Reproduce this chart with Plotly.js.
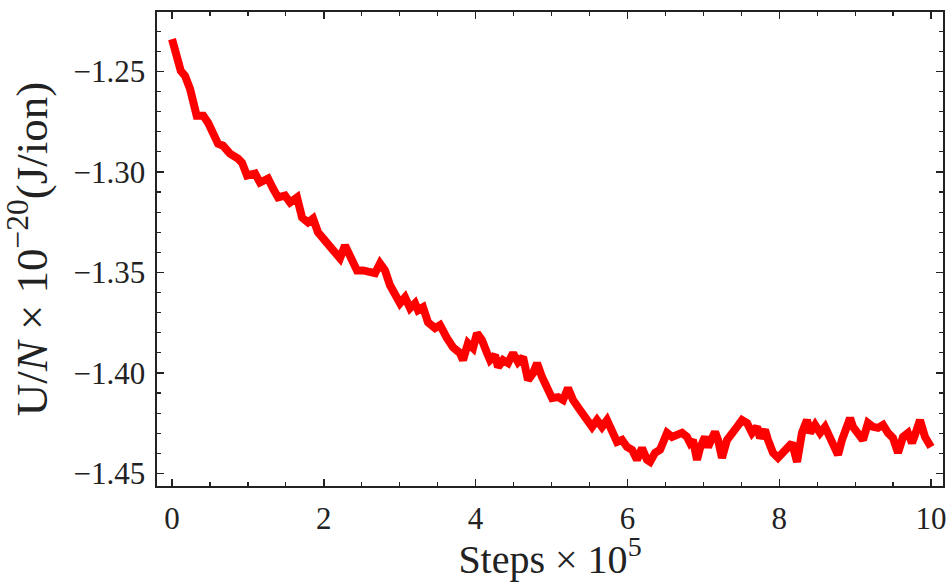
<!DOCTYPE html>
<html>
<head>
<meta charset="utf-8">
<script src="https://cdn.plot.ly/plotly-3.0.1.min.js"></script>
<style>body{margin:0;background:#fff}#chart{width:948px;height:582px}</style>
</head>
<body>
<div id="chart"></div>
<script>
// Steps (x 10^5)
const steps = [
 0.00,0.062,0.115,0.171,0.237,0.325,0.412,0.474,0.540,0.606,0.672,0.764,0.870,0.922,0.988,
 1.094,1.159,1.265,1.331,1.397,1.489,1.555,1.647,1.713,1.792,1.858,1.924,
 2.042,2.121,2.213,2.279,2.345,2.437,2.516,2.609,2.675,2.740,2.806,2.872,2.938,
 3.004,3.070,3.136,3.202,3.241,3.307,3.373,3.465,3.531,3.623,3.702,3.794,3.834,3.900,3.966,
 4.018,4.084,4.150,4.190,4.256,4.295,4.361,4.427,4.493,4.559,4.625,4.690,4.756,4.809,4.875,4.941,
 5.007,5.086,5.152,5.217,5.283,5.375,5.468,5.534,5.599,5.665,5.731,5.797,5.863,5.929,5.995,
 6.061,6.126,6.192,6.258,6.298,6.364,6.430,6.522,6.588,6.653,6.719,6.785,6.825,6.864,6.917,6.957,
 7.022,7.062,7.115,7.154,7.194,7.246,7.312,7.378,7.444,7.510,7.576,7.642,7.708,7.747,7.813,7.852,7.918,7.984,
 8.050,8.116,8.169,8.235,8.274,8.300,8.366,8.406,8.472,8.538,8.603,8.669,8.735,8.775,8.827,8.893,8.933,8.972,
 9.038,9.104,9.170,9.236,9.302,9.368,9.433,9.499,9.565,9.631,9.697,9.750,9.789,9.855,9.921,10.00
];
// U/N x 10^-20 (J/ion)
const energy = [
 -1.2340,-1.2423,-1.2498,-1.2522,-1.2587,-1.2721,-1.2721,-1.2755,-1.2820,-1.2860,-1.2870,-1.2909,-1.2934,-1.2954,-1.3018,
 -1.3008,-1.3053,-1.3033,-1.3083,-1.3127,-1.3118,-1.3152,-1.3127,-1.3227,-1.3251,-1.3232,-1.3301,
 -1.3351,-1.3390,-1.3430,-1.3366,-1.3425,-1.3490,-1.3490,-1.3500,-1.3504,-1.3455,-1.3490,-1.3564,-1.3604,
 -1.3653,-1.3624,-1.3678,-1.3653,-1.3688,-1.3673,-1.3748,-1.3777,-1.3762,-1.3827,-1.3872,-1.3901,-1.3936,-1.3852,-1.3876,
 -1.3802,-1.3837,-1.3901,-1.3936,-1.3911,-1.3971,-1.3936,-1.3951,-1.3901,-1.3946,-1.3921,-1.4035,-1.4001,-1.3951,-1.4020,-1.4085,
 -1.4125,-1.4120,-1.4134,-1.4075,-1.4134,-1.4184,-1.4244,-1.4268,-1.4234,-1.4268,-1.4234,-1.4283,-1.4343,-1.4333,-1.4368,
 -1.4382,-1.4432,-1.4373,-1.4432,-1.4442,-1.4397,-1.4382,-1.4298,-1.4318,-1.4308,-1.4298,-1.4318,-1.4348,-1.4333,-1.4432,-1.4373,
 -1.4318,-1.4368,-1.4323,-1.4293,-1.4333,-1.4422,-1.4333,-1.4293,-1.4268,-1.4234,-1.4249,-1.4298,-1.4268,-1.4323,-1.4283,-1.4333,-1.4397,-1.4422,
 -1.4397,-1.4382,-1.4348,-1.4442,-1.4333,-1.4298,-1.4234,-1.4298,-1.4258,-1.4298,-1.4268,-1.4318,-1.4382,-1.4407,-1.4333,-1.4268,-1.4224,-1.4268,
 -1.4298,-1.4333,-1.4249,-1.4268,-1.4273,-1.4258,-1.4298,-1.4323,-1.4397,-1.4318,-1.4298,-1.4348,-1.4308,-1.4234,-1.4318,-1.4368
];
const xTicks = [0, 2, 4, 6, 8, 10];
const yTicks = [-1.45, -1.40, -1.35, -1.30, -1.25];

const FONT = '"Liberation Serif", "Times New Roman", serif';
const axisCommon = {
  showline: true, linecolor: '#222', linewidth: 1.6, mirror: 'ticks',
  ticks: 'inside', ticklen: 7, tickwidth: 1.4, tickcolor: '#222',
  showgrid: false, zeroline: false,
  tickfont: {family: FONT, size: 31, color: '#222'}
};

Plotly.newPlot('chart', [{
  x: steps, y: energy, type: 'scatter', mode: 'lines',
  line: {color: '#ff0000', width: 8, shape: 'linear'},
  hoverinfo: 'skip'
}], {
  width: 948, height: 582,
  margin: {l: 157, r: 5, t: 12, b: 96},
  paper_bgcolor: '#fff', plot_bgcolor: '#fff',
  showlegend: false,
  xaxis: Object.assign({}, axisCommon, {
    range: [-0.198, 10.158], tickvals: xTicks, ticktext: xTicks.map(String),
    ticklabelstandoff: 4,
    minor: {dtick: 0.5, tick0: 0, ticks: 'inside', ticklen: 4, tickwidth: 1.2, tickcolor: '#222', showgrid: false},
    title: {text: 'Steps × 10<sup>5</sup>', font: {family: FONT, size: 40, color: '#222'}, standoff: 14}
  }),
  yaxis: Object.assign({}, axisCommon, {
    range: [-1.4562, -1.2205], tickvals: yTicks, ticktext: yTicks.map(v => '\u2212' + Math.abs(v).toFixed(2)),
    ticklabelstandoff: 4,
    minor: {dtick: 0.01, tick0: -1.25, ticks: 'inside', ticklen: 4, tickwidth: 1.2, tickcolor: '#222', showgrid: false},
    title: {text: 'U/<i>N</i> × 10<sup>−20</sup>(J/ion)', font: {family: FONT, size: 45, color: '#222'}, standoff: 14}
  })
}, {staticPlot: true});
</script>
</body>
</html>
